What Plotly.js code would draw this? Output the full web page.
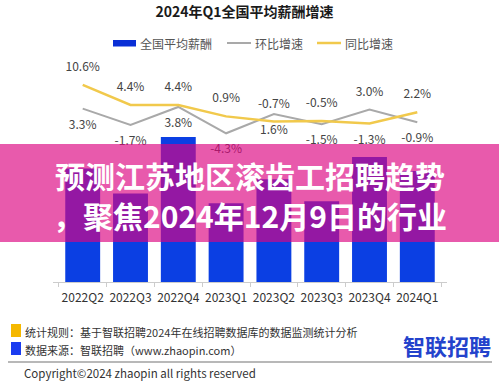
<!DOCTYPE html>
<html><head><meta charset="utf-8">
<script src="https://cdn.plot.ly/plotly-3.0.1.min.js"></script>
<style>html,body{margin:0;padding:0;background:#fff;}#chart{width:499px;height:386px;}</style>
</head><body><div id="chart"></div>
<script>
// ---- data ----
const quarters = ['2022Q2','2022Q3','2022Q4','2023Q1','2023Q2','2023Q3','2023Q4','2024Q1'];
const salary = [10341,10168,10558,10101,10266,10115,10420,10323];
const qoq = [3.3,-1.7,3.8,-4.3,1.6,-1.5,3.0,-0.9];
const yoy = [10.6,4.4,4.4,0.9,-0.7,-0.5,-1.3,2.2];
const chartTitle = '2024年Q1全国平均薪酬增速';
const seriesNames = ['全国平均薪酬','环比增速','同比增速'];
const bannerLines = ['预测江苏地区滚齿工招聘趋势','，聚焦2024年12月9日的行业'];
const footnotes = ['统计规则：基于智联招聘2024年在线招聘数据库的数据监测统计分析','数据来源：智联招聘（www.zhaopin.com）'];
const copyright = 'Copyright©2024 zhaopin all rights reserved';
const logoText = '智联招聘';

// ---- geometry / style ----
const FONT = '"Noto Sans CJK SC", "Noto Sans", sans-serif';
const W = 499, H = 386, ML = 53, MR = 52, MT = 60, MB = 104;
const PW = W - ML - MR, PH = H - MT - MB;
const px = x => (x - ML) / PW;
const py = y => (MT + PH - y) / PH;
const BLUE = '#0b3fe3', GRAY = '#a9a9a9', GOLD = '#f1c94c';

const pct = v => v.toFixed(1) + '%';

const traces = [
  {
    type: 'bar', x: quarters, y: salary, name: seriesNames[0],
    marker: { color: BLUE },
    text: salary.map(String), textposition: 'inside', insidetextanchor: 'start',
    textangle: 0, constraintext: 'none',
    textfont: { family: FONT, size: 12.5, color: '#e6ecff' },
    hoverinfo: 'skip', showlegend: false
  },
  {
    type: 'scatter', mode: 'lines+markers+text', x: quarters, y: qoq, yaxis: 'y2', name: seriesNames[1],
    line: { color: GRAY, width: 2 },
    marker: { size: 16, color: 'rgba(0,0,0,0)' },
    text: qoq.map(pct),
    textposition: ['bottom center','bottom center','bottom center','bottom center','bottom center','bottom center','top center','bottom center'],
    textfont: { family: FONT, size: 12, color: '#444' },
    cliponaxis: false, hoverinfo: 'skip', showlegend: false
  },
  {
    type: 'scatter', mode: 'lines+markers+text', x: quarters, y: yoy, yaxis: 'y2', name: seriesNames[2],
    line: { color: GOLD, width: 2.5 },
    marker: { size: 16, color: 'rgba(0,0,0,0)' },
    text: yoy.map(pct),
    textposition: ['top center','top center','top center','top center','top center','top center','bottom center','top center'],
    textfont: { family: FONT, size: 12, color: '#444' },
    cliponaxis: false, hoverinfo: 'skip', showlegend: false
  }
];

const shapes = [
  // legend symbols
  { type: 'rect', xref: 'paper', yref: 'paper', x0: px(113), x1: px(136), y0: py(46.5), y1: py(40), fillcolor: '#0a2fd6', line: { width: 0 } },
  { type: 'line', xref: 'paper', yref: 'paper', x0: px(227), x1: px(251), y0: py(43), y1: py(43), line: { color: GRAY, width: 2 } },
  { type: 'line', xref: 'paper', yref: 'paper', x0: px(317), x1: px(341), y0: py(43), y1: py(43), line: { color: GOLD, width: 2.5 } },
  // banner
  { type: 'rect', layer: 'above', xref: 'paper', yref: 'paper', x0: px(0), x1: px(499), y0: py(242), y1: py(144), fillcolor: 'rgba(220,5,129,0.66)', line: { width: 0 } },
  // footer
  { type: 'rect', xref: 'paper', yref: 'paper', x0: px(11), x1: px(21), y0: py(337), y1: py(324), fillcolor: '#f5b800', line: { width: 0 } },
  { type: 'rect', xref: 'paper', yref: 'paper', x0: px(11), x1: px(21), y0: py(355), y1: py(342), fillcolor: '#1a3cf0', line: { width: 0 } },
  { type: 'line', xref: 'paper', yref: 'paper', x0: px(8), x1: px(492), y0: py(362), y1: py(362), line: { color: '#a0a0a0', width: 1.5 } }
];

const ann = (text, x, y, opts) => Object.assign({
  text, xref: 'paper', yref: 'paper', x: px(x), y: py(y), showarrow: false,
  xanchor: 'left', yanchor: 'middle', font: { family: FONT, size: 12, color: '#555' }
}, opts || {});

const annotations = [
  ann(seriesNames[0], 138, 43.5),
  ann(seriesNames[1], 253, 43.5),
  ann(seriesNames[2], 343, 43.5),
  ann(bannerLines[0], 250, 175, { xanchor: 'center', font: { family: FONT, size: 30, color: '#ffffff', weight: 700 } }),
  ann(bannerLines[1], 250, 215, { xanchor: 'center', font: { family: FONT, size: 30, color: '#ffffff', weight: 700 } }),
  ann(footnotes[0], 23, 332, { font: { family: FONT, size: 11, color: '#333' } }),
  ann(footnotes[1], 23, 350, { font: { family: FONT, size: 11, color: '#333' } }),
  ann(copyright, 22, 373, { font: { family: FONT, size: 11.5, color: '#333' } }),
  ann(logoText, 447, 345, { xanchor: 'center', font: { family: FONT, size: 22, color: '#2443cc', weight: 700 } })
];

const layout = {
  width: W, height: H,
  margin: { l: ML, r: MR, t: MT, b: MB, pad: 0 },
  paper_bgcolor: '#fff', plot_bgcolor: '#fff',
  font: { family: FONT, color: '#333' },
  title: { text: chartTitle, x: 0.49, xanchor: 'center', y: 1 - 12.5 / H, yanchor: 'middle', yref: 'container',
           font: { family: FONT, size: 14, color: '#1a1a1a', weight: 700 } },
  showlegend: false,
  bargap: 0.27,
  xaxis: { type: 'category', tickson: 'boundaries', ticks: 'outside', ticklen: 4, tickcolor: '#cccccc',
           showline: true, linecolor: '#cccccc', linewidth: 1, showgrid: false, zeroline: false,
           tickangle: 0, ticklabelstandoff: 5,
           tickfont: { family: FONT, size: 12, color: '#333' }, fixedrange: true },
  yaxis: { range: [9558, 11089], visible: false, showgrid: false, zeroline: false, fixedrange: true },
  yaxis2: { range: [-50.06, 18.25], overlaying: 'y', visible: false, showgrid: false, zeroline: false, fixedrange: true },
  shapes, annotations
};

Plotly.newPlot('chart', traces, layout, { staticPlot: true, displayModeBar: false });
</script>
</body></html>
